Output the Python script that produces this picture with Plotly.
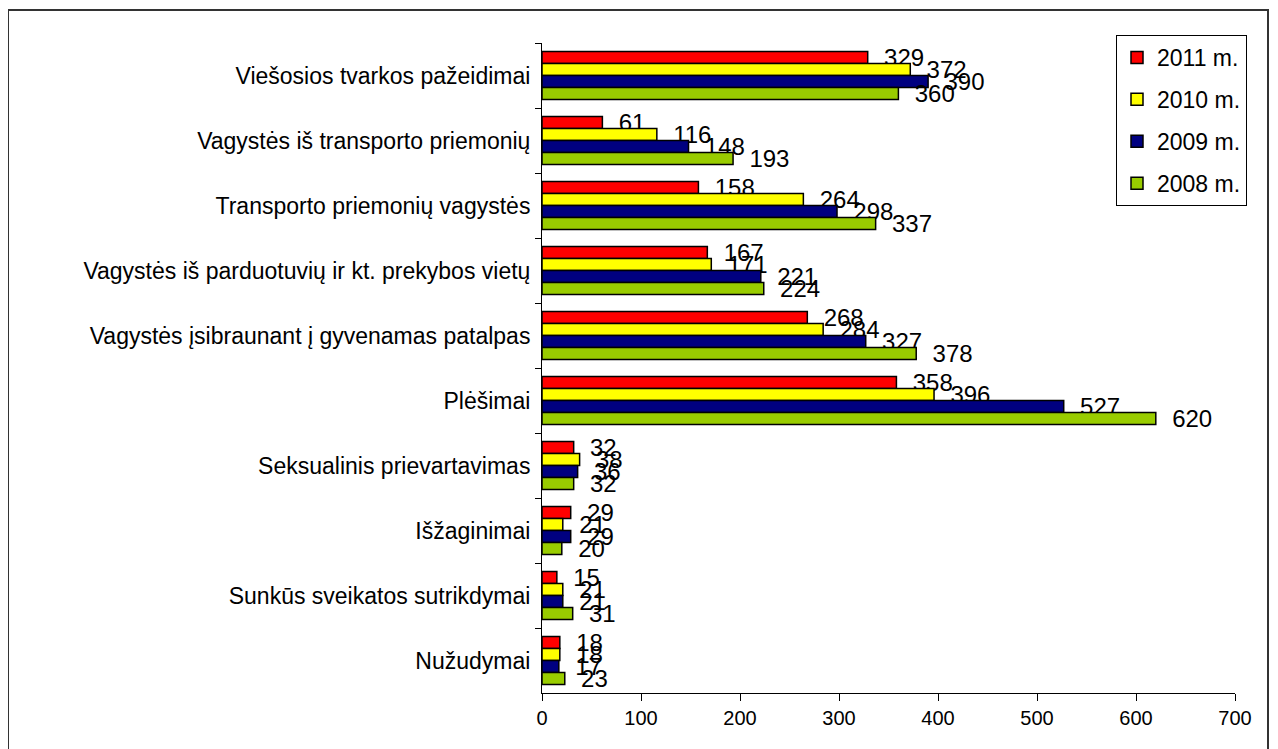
import plotly.graph_objects as go

categories = [
    "Viešosios tvarkos pažeidimai",
    "Vagystės iš transporto priemonių",
    "Transporto priemonių vagystės",
    "Vagystės iš parduotuvių ir kt. prekybos vietų",
    "Vagystės įsibraunant į gyvenamas patalpas",
    "Plėšimai",
    "Seksualinis prievartavimas",
    "Išžaginimai",
    "Sunkūs sveikatos sutrikdymai",
    "Nužudymai",
]
v2011 = [329, 61, 158, 167, 268, 358, 32, 29, 15, 18]
v2010 = [372, 116, 264, 171, 284, 396, 38, 21, 21, 18]
v2009 = [390, 148, 298, 221, 327, 527, 36, 29, 21, 17]
v2008 = [360, 193, 337, 224, 378, 620, 32, 20, 31, 23]
series_names = ["2011 m.", "2010 m.", "2009 m.", "2008 m."]
series_values = [v2011, v2010, v2009, v2008]
colors = ["#FF0000", "#FFFF00", "#000080", "#99CC00"]
x_ticks = [0, 100, 200, 300, 400, 500, 600, 700]

FONT = "Liberation Sans, Arial, sans-serif"

fig = go.Figure()
for name, vals, col in zip(series_names, series_values, colors):
    fig.add_trace(go.Bar(
        y=categories, x=vals, name=name, orientation="h",
        marker=dict(color=col, line=dict(color="black", width=1.5)),
        text=vals, texttemplate="\u00a0\u00a0%{x}", textposition="outside",
        constraintext="none", cliponaxis=False,
        textfont=dict(family=FONT, size=24, color="black"),
        legendgroup=name,
    ))

# page body has an 8px margin: work in page coordinates, shifted by OFF
OFF = 8
W, H = 1278 - OFF, 749 - OFF
L = 542 - OFF
R = 1278 - 1235
T = 43 - OFF
B = 749 - 693
pw, ph = W - L - R, H - T - B


def px(xp):
    return (xp - 542) / pw


def py(yp):
    return (693 - yp) / ph


fig.update_layout(
    width=W, height=H,
    margin=dict(l=L, r=R, t=T, b=B),
    barmode="group", bargap=0.26, bargroupgap=0,
    plot_bgcolor="white", paper_bgcolor="white",
    font=dict(family=FONT, color="black"),
    showlegend=True,
    legend=dict(
        x=px(1116), y=py(35), xanchor="left", yanchor="top",
        font=dict(family=FONT, size=23, color="black"),
        bordercolor="black", borderwidth=1, bgcolor="white",
        tracegroupgap=9, traceorder="grouped",
    ),
    xaxis=dict(
        range=[0, 700], tickvals=x_ticks, showgrid=False, zeroline=False,
        showline=True, linecolor="black", linewidth=1,
        ticks="outside", ticklen=7, tickcolor="black",
        tickfont=dict(family=FONT, size=20, color="black"),
    ),
    yaxis=dict(
        autorange="reversed", showgrid=False, zeroline=False,
        showline=True, linecolor="black", linewidth=1,
        ticks="outside", ticklen=6, tickcolor="black", tickson="boundaries",
        tickfont=dict(family=FONT, size=23, color="black"),
        ticklabelstandoff=6,
    ),
    shapes=[dict(
        type="rect", xref="paper", yref="paper",
        x0=px(8), x1=px(1268),
        y0=py(780), y1=py(10),
        line=dict(color="#333333", width=2), fillcolor="rgba(0,0,0,0)",
        layer="below",
    )],
)

fig.write_html("out.html")
